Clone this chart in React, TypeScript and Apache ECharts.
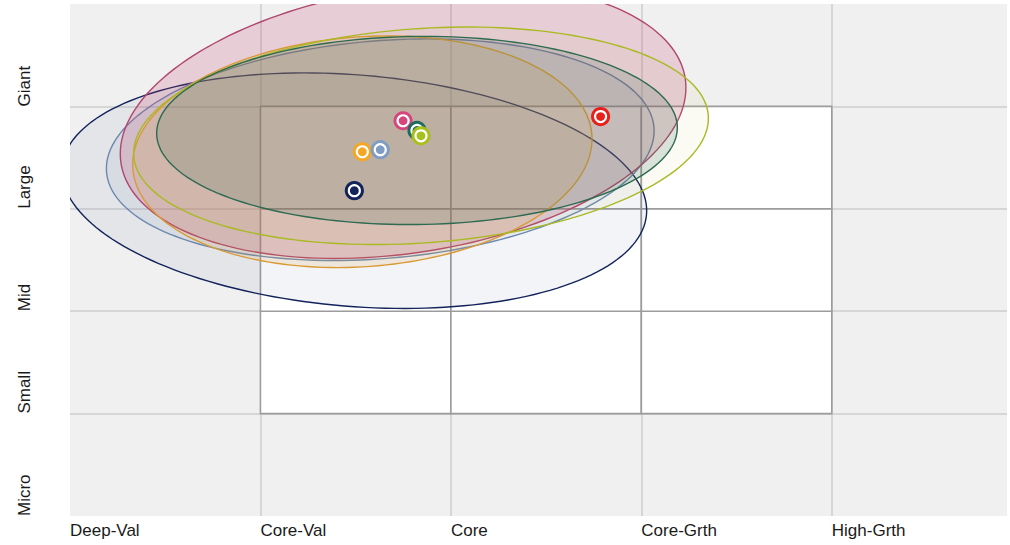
import { useEffect, useRef } from "react";
import * as echarts from "echarts";

// Axis vocabulary of the style box
const styleLabels = ["Deep-Val", "Core-Val", "Core", "Core-Grth", "High-Grth"];
const sizeLabels = ["Micro", "Small", "Mid", "Large", "Giant"];

// Cells of the 3x3 style box (lower-left corner, in axis units)
const boxCols = [1, 2, 3];
const boxRows = [1, 2, 3];

// Holdings: centroid, ownership-zone half-width / half-height and tilt (correlation)
const holdingNames = ["navy", "steel", "rose", "amber", "lime", "pine", "red"];
const centroidX = [1.493, 1.629, 1.749, 1.535, 1.843, 1.822, 2.786];
const centroidY = [3.177, 3.577, 3.86, 3.557, 3.713, 3.765, 3.901];
const zoneHalfX = [1.535, 1.438, 1.485, 1.206, 1.509, 1.367, 0];
const zoneHalfY = [1.15, 1.082, 1.345, 1.131, 1.062, 0.919, 0];
const zoneTilt = [-0.17, 0.17, 0.24, 0.11, 0.16, 0.03, 0];

// Palette
const strokeColors = ["#13235b", "#6d88b0", "#b0466f", "#d99a36", "#a9b922", "#2d6a50", "#e8201c"];
const dotColors = ["#13235b", "#7f9cc2", "#d4477b", "#f5a623", "#a8c01c", "#1d6b5c", "#e8201c"];
const zoneFill = [
  "rgba(19,35,91,0.05)",
  "rgba(109,136,176,0.10)",
  "rgba(196,66,110,0.20)",
  "rgba(217,154,54,0.15)",
  "rgba(169,185,34,0.05)",
  "rgba(45,106,80,0.17)",
  "rgba(0,0,0,0)",
];
const zoneOrder = [0, 1, 2, 3, 4, 5];
const dotOrder = [3, 1, 0, 2, 5, 4, 6];

const FONT = "'Liberation Sans', Arial, sans-serif";

export default function App() {
  const ref = useRef<HTMLDivElement>(null);

  useEffect(() => {
    if (!ref.current) return;
    const chart = echarts.init(ref.current, undefined, { renderer: "svg" });

    const cells: number[][] = [];
    boxCols.forEach((c) => boxRows.forEach((r) => cells.push([c, r])));

    const boxSeries = {
      type: "custom",
      name: "box",
      z: 1,
      silent: true,
      data: cells,
      encode: { x: 0, y: 1 },
      renderItem: (_p: any, api: any) => {
        const c = api.value(0);
        const r = api.value(1);
        const a = api.coord([c, r + 1]);
        const b = api.coord([c + 1, r]);
        return {
          type: "rect",
          shape: { x: a[0], y: a[1], width: b[0] - a[0], height: b[1] - a[1] },
          style: { fill: "#ffffff", stroke: "#9c9c9c", lineWidth: 1.6 },
        };
      },
    };

    const zoneSeries = zoneOrder.map((i, k) => ({
      type: "custom",
      name: holdingNames[i] + "-zone",
      z: 2 + k,
      clip: true,
      silent: true,
      data: [[centroidX[i], centroidY[i], zoneHalfX[i], zoneHalfY[i], zoneTilt[i]]],
      encode: { x: 0, y: 1 },
      renderItem: (params: any, api: any) => {
        const cx = api.value(0);
        const cy = api.value(1);
        const sx = api.value(2);
        const sy = api.value(3);
        const rho = api.value(4);
        const q = Math.sqrt(1 - rho * rho);
        const pts: number[][] = [];
        const steps = 180;
        for (let s = 0; s < steps; s++) {
          const t = (s / steps) * Math.PI * 2;
          pts.push(
            api.coord([cx + sx * Math.cos(t), cy + sy * (rho * Math.cos(t) + q * Math.sin(t))])
          );
        }
        const cs = params.coordSys;
        return {
          type: "polygon",
          shape: { points: pts },
          clipPath: { type: "rect", shape: { x: cs.x, y: cs.y, width: cs.width, height: cs.height } },
          style: { fill: zoneFill[i], stroke: strokeColors[i], lineWidth: 1.4 },
        };
      },
    }));

    const dotSeries = dotOrder.map((i, k) => ({
      type: "custom",
      name: holdingNames[i],
      z: 20 + k,
      silent: true,
      data: [[centroidX[i], centroidY[i]]],
      encode: { x: 0, y: 1 },
      renderItem: (_p: any, api: any) => {
        const p = api.coord([api.value(0), api.value(1)]);
        const col = dotColors[i];
        return {
          type: "group",
          children: [
            { type: "circle", shape: { cx: p[0], cy: p[1], r: 9.6 }, style: { fill: col } },
            { type: "circle", shape: { cx: p[0], cy: p[1], r: 6.6 }, style: { fill: "#ffffff" } },
            { type: "circle", shape: { cx: p[0], cy: p[1], r: 4.4 }, style: { fill: col } },
          ],
        };
      },
    }));

    const isWhole = (v: number) => Math.abs(v - Math.round(v)) < 1e-6;

    chart.setOption({
      animation: false,
      grid: {
        left: 70,
        right: 0,
        top: 4,
        bottom: 29,
        show: true,
        backgroundColor: "#f0f0f0",
        borderWidth: 0,
      },
      xAxis: {
        type: "value",
        min: 0,
        max: 4.92,
        interval: 1,
        axisLine: { show: false },
        axisTick: { show: false },
        splitLine: {
          show: true,
          showMinLine: false,
          showMaxLine: false,
          lineStyle: { color: "#d6d6d6", width: 2 },
        },
        axisLabel: {
          margin: 6,
          align: "left",
          fontFamily: FONT,
          fontSize: 17,
          color: "#1a1a1a",
          formatter: (v: number) => (isWhole(v) ? styleLabels[Math.round(v)] ?? "" : ""),
        },
      },
      yAxis: {
        type: "value",
        min: 0,
        max: 5,
        interval: 1,
        axisLine: { show: false },
        axisTick: { show: false },
        splitLine: {
          show: true,
          showMinLine: false,
          showMaxLine: false,
          lineStyle: { color: "#d6d6d6", width: 2 },
        },
        axisLabel: {
          margin: 46,
          rotate: 90,
          align: "left",
          verticalAlign: "middle",
          fontFamily: FONT,
          fontSize: 17,
          color: "#1a1a1a",
          formatter: (v: number) => (isWhole(v) ? sizeLabels[Math.round(v)] ?? "" : ""),
        },
      },
      series: [boxSeries, ...zoneSeries, ...dotSeries],
    });

    return () => chart.dispose();
  }, []);

  return (
    <div
      ref={ref}
      style={{ position: "absolute", left: 0, top: 0, width: 1010, height: 545, background: "#ffffff" }}
    />
  );
}
